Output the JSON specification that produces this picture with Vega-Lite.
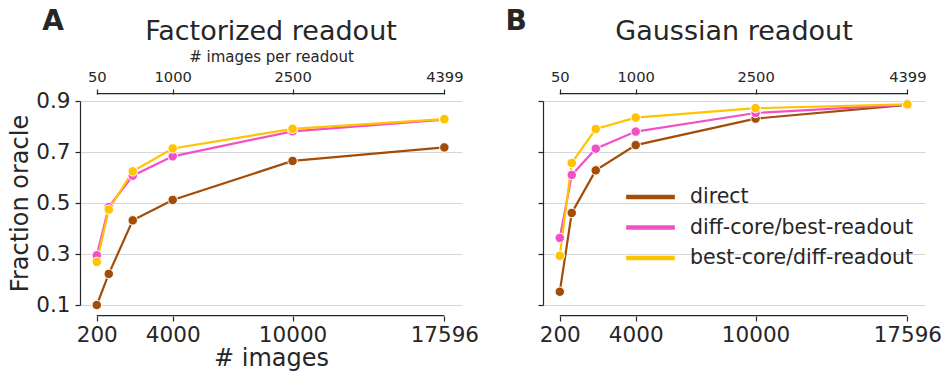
{
  "$schema": "https://vega.github.io/schema/vega-lite/v6.json",
  "padding": {"left": 8, "top": 8, "right": 5, "bottom": 0},
  "config": {
    "font": "DejaVu Sans",
    "view": {"stroke": null},
    "title": {"fontSize": 27, "fontWeight": "normal", "color": "#262626", "font": "DejaVu Sans", "anchor": "middle", "offset": -38},
    "axis": {
      "labelFont": "DejaVu Sans", "titleFont": "DejaVu Sans",
      "labelColor": "#262626", "titleColor": "#262626",
      "labelFontWeight": "normal",
      "domainColor": "#262626", "tickColor": "#262626",
      "titleFontWeight": "normal", "gridColor": "#d6d6d6", "gridWidth": 1,
      "tickSize": 5, "domainWidth": 1.2, "tickWidth": 1.2
    }
  },
  "datasets": {
    "fact": [
      {"n": 200, "s": "direct", "v": 0.100},
      {"n": 800, "s": "direct", "v": 0.222},
      {"n": 2000, "s": "direct", "v": 0.432},
      {"n": 4000, "s": "direct", "v": 0.512},
      {"n": 10000, "s": "direct", "v": 0.665},
      {"n": 17596, "s": "direct", "v": 0.718},
      {"n": 200, "s": "diff-core/best-readout", "v": 0.295},
      {"n": 800, "s": "diff-core/best-readout", "v": 0.484},
      {"n": 2000, "s": "diff-core/best-readout", "v": 0.607},
      {"n": 4000, "s": "diff-core/best-readout", "v": 0.683},
      {"n": 10000, "s": "diff-core/best-readout", "v": 0.781},
      {"n": 17596, "s": "diff-core/best-readout", "v": 0.827},
      {"n": 200, "s": "best-core/diff-readout", "v": 0.269},
      {"n": 800, "s": "best-core/diff-readout", "v": 0.474},
      {"n": 2000, "s": "best-core/diff-readout", "v": 0.624},
      {"n": 4000, "s": "best-core/diff-readout", "v": 0.714},
      {"n": 10000, "s": "best-core/diff-readout", "v": 0.791},
      {"n": 17596, "s": "best-core/diff-readout", "v": 0.829}
    ],
    "gauss": [
      {"n": 200, "s": "direct", "v": 0.152},
      {"n": 800, "s": "direct", "v": 0.461},
      {"n": 2000, "s": "direct", "v": 0.628},
      {"n": 4000, "s": "direct", "v": 0.727},
      {"n": 10000, "s": "direct", "v": 0.831},
      {"n": 17596, "s": "direct", "v": 0.885},
      {"n": 200, "s": "diff-core/best-readout", "v": 0.363},
      {"n": 800, "s": "diff-core/best-readout", "v": 0.610},
      {"n": 2000, "s": "diff-core/best-readout", "v": 0.713},
      {"n": 4000, "s": "diff-core/best-readout", "v": 0.780},
      {"n": 10000, "s": "diff-core/best-readout", "v": 0.853},
      {"n": 17596, "s": "diff-core/best-readout", "v": 0.886},
      {"n": 200, "s": "best-core/diff-readout", "v": 0.293},
      {"n": 800, "s": "best-core/diff-readout", "v": 0.657},
      {"n": 2000, "s": "best-core/diff-readout", "v": 0.790},
      {"n": 4000, "s": "best-core/diff-readout", "v": 0.835},
      {"n": 10000, "s": "best-core/diff-readout", "v": 0.872},
      {"n": 17596, "s": "best-core/diff-readout", "v": 0.887}
    ]
  },
  "spacing": 81,
  "bounds": "flush",
  "resolve": {"legend": {"color": "independent"}},
  "hconcat": [
    {
      "width": 382, "height": 204,
      "title": {"text": "Factorized readout"},
      "resolve": {"axis": {"x": "independent"}},
      "layer": [
        {
          "data": {"name": "fact"},
          "mark": {"type": "line", "strokeWidth": 2.2},
          "encoding": {
            "x": {"field": "n", "type": "quantitative",
              "scale": {"domain": [-640, 18480], "nice": false, "zero": false},
              "axis": {"orient": "bottom", "values": [200, 4000, 10000, 17596], "format": "d", "domain": false, "grid": false, "offset": 11, "labelFontSize": 21.5, "labelPadding": 3, "title": "# images", "titleFontSize": 24, "titlePadding": 1, "labelFlush": false, "labelOverlap": false}},
            "y": {"field": "v", "type": "quantitative",
              "scale": {"domain": [0.1, 0.9], "nice": false, "zero": false},
              "axis": {"values": [0.1, 0.2, 0.3, 0.4, 0.5, 0.6, 0.7, 0.8, 0.9], "labelExpr": "round(datum.value*10) % 2 == 1 ? format(datum.value, '.1f') : ''", "grid": true, "domain": true, "labelFontSize": 21.5, "labelPadding": 5, "title": "Fraction oracle", "titleFontSize": 24, "titlePadding": 3, "labelFlush": false, "labelOverlap": false}},
            "color": {"field": "s", "type": "nominal",
              "scale": {"domain": ["direct", "diff-core/best-readout", "best-core/diff-readout"], "range": ["#a24e0a", "#f450c6", "#ffc300"]},
              "legend": null}
          }
        },
        {
          "data": {"name": "fact"},
          "mark": {"type": "point", "filled": true, "size": 90, "stroke": "white", "strokeWidth": 1, "opacity": 1},
          "encoding": {
            "x": {"field": "n", "type": "quantitative",
              "axis": {"orient": "top", "values": [200, 4000, 10000, 17596], "labelExpr": "format(datum.value/4, 'd')", "domain": false, "grid": false, "offset": 7, "labelFontSize": 14.7, "labelPadding": 5, "title": "# images per readout", "titleFontSize": 15, "titlePadding": 5, "labelFlush": false, "labelOverlap": false}},
            "y": {"field": "v", "type": "quantitative", "title": "Fraction oracle"},
            "color": {"field": "s", "type": "nominal", "legend": null}
          }
        },
        {
          "data": {"values": [{"k": "bottom"}]},
          "mark": {"type": "rule", "color": "#262626", "strokeWidth": 1.2},
          "encoding": {
            "x": {"datum": 200, "type": "quantitative", "axis": null},
            "x2": {"datum": 17596},
            "y": {"datum": 0.058, "type": "quantitative", "title": "Fraction oracle"}
          }
        },
        {
          "data": {"values": [{"k": "top"}]},
          "mark": {"type": "rule", "color": "#262626", "strokeWidth": 1.2},
          "encoding": {
            "x": {"datum": 200, "type": "quantitative", "axis": null},
            "x2": {"datum": 17596},
            "y": {"datum": 0.9286, "type": "quantitative", "title": "Fraction oracle"}
          }
        },
        {
          "data": {"values": [{"label": "A"}]},
          "mark": {"type": "text", "fontSize": 28, "fontWeight": "bold", "font": "DejaVu Sans", "baseline": "alphabetic", "align": "center", "color": "#262626"},
          "encoding": {
            "x": {"datum": -1985, "type": "quantitative", "axis": null},
            "y": {"datum": 1.177, "type": "quantitative", "title": "Fraction oracle"},
            "text": {"field": "label", "type": "nominal"}
          }
        }
      ]
    },
    {
      "width": 382, "height": 204,
      "title": {"text": "Gaussian readout"},
      "resolve": {"axis": {"x": "independent"}},
      "layer": [
        {
          "data": {"name": "gauss"},
          "mark": {"type": "line", "strokeWidth": 2.2},
          "encoding": {
            "x": {"field": "n", "type": "quantitative",
              "scale": {"domain": [-640, 18480], "nice": false, "zero": false},
              "axis": {"orient": "bottom", "values": [200, 4000, 10000, 17596], "format": "d", "domain": false, "grid": false, "offset": 11, "labelFontSize": 21.5, "labelPadding": 3, "title": null, "labelFlush": false, "labelOverlap": false}},
            "y": {"field": "v", "type": "quantitative",
              "scale": {"domain": [0.1, 0.9], "nice": false, "zero": false},
              "axis": {"values": [0.1, 0.2, 0.3, 0.4, 0.5, 0.6, 0.7, 0.8, 0.9], "labels": false, "grid": true, "domain": true, "title": null}},
            "color": {"field": "s", "type": "nominal",
              "scale": {"domain": ["direct", "diff-core/best-readout", "best-core/diff-readout"], "range": ["#a24e0a", "#f450c6", "#ffc300"]},
              "legend": {"orient": "none", "legendX": 81, "legendY": 84, "title": null, "symbolType": "stroke", "symbolSize": 2370, "symbolStrokeWidth": 4.3, "labelFontSize": 20.5, "labelFont": "DejaVu Sans", "labelColor": "#262626", "labelOffset": 13, "labelLimit": 500, "clipHeight": 24, "rowPadding": 6.5}}
          }
        },
        {
          "data": {"name": "gauss"},
          "mark": {"type": "point", "filled": true, "size": 90, "stroke": "white", "strokeWidth": 1, "opacity": 1},
          "encoding": {
            "x": {"field": "n", "type": "quantitative",
              "axis": {"orient": "top", "values": [200, 4000, 10000, 17596], "labelExpr": "format(datum.value/4, 'd')", "domain": false, "grid": false, "offset": 7, "labelFontSize": 14.7, "labelPadding": 5, "title": null, "labelFlush": false, "labelOverlap": false}},
            "y": {"field": "v", "type": "quantitative", "title": null},
            "color": {"field": "s", "type": "nominal", "legend": null}
          }
        },
        {
          "data": {"values": [{"k": "bottom"}]},
          "mark": {"type": "rule", "color": "#262626", "strokeWidth": 1.2},
          "encoding": {
            "x": {"datum": 200, "type": "quantitative", "axis": null},
            "x2": {"datum": 17596},
            "y": {"datum": 0.058, "type": "quantitative", "title": null}
          }
        },
        {
          "data": {"values": [{"k": "top"}]},
          "mark": {"type": "rule", "color": "#262626", "strokeWidth": 1.2},
          "encoding": {
            "x": {"datum": 200, "type": "quantitative", "axis": null},
            "x2": {"datum": 17596},
            "y": {"datum": 0.9286, "type": "quantitative", "title": null}
          }
        },
        {
          "data": {"values": [{"label": "B"}]},
          "mark": {"type": "text", "fontSize": 28, "fontWeight": "bold", "font": "DejaVu Sans", "baseline": "alphabetic", "align": "center", "color": "#262626"},
          "encoding": {
            "x": {"datum": -1985, "type": "quantitative", "axis": null},
            "y": {"datum": 1.177, "type": "quantitative", "title": null},
            "text": {"field": "label", "type": "nominal"}
          }
        }
      ]
    }
  ]
}
